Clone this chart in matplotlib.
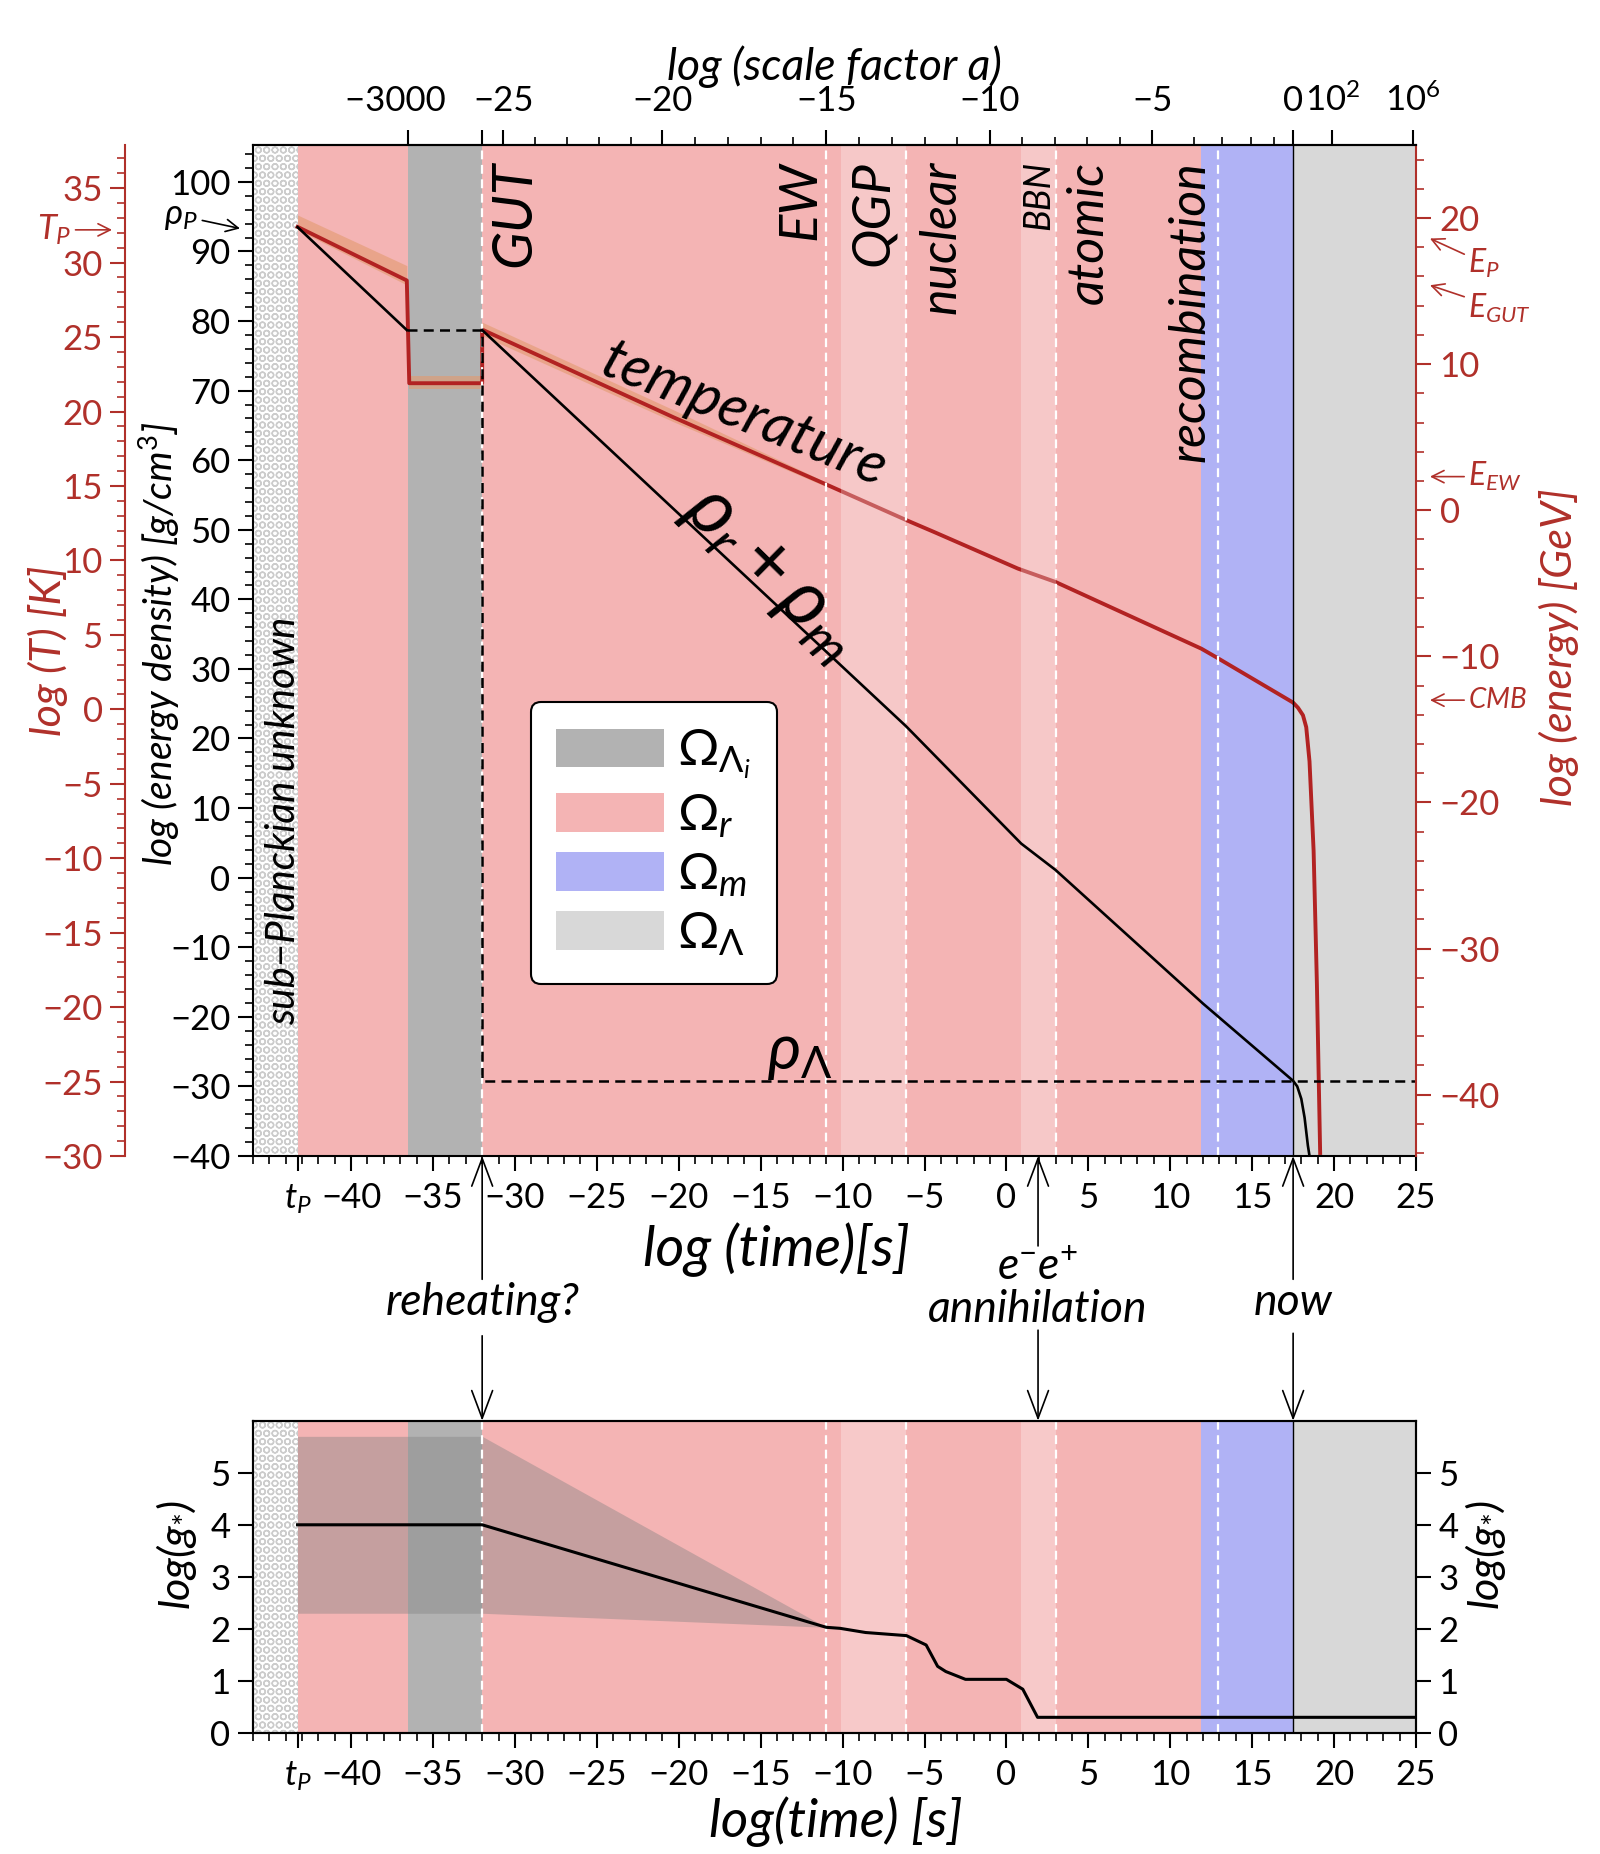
import numpy as np
import matplotlib

matplotlib.use("Agg")
import matplotlib.pyplot as plt
from matplotlib.patches import Patch

plt.rcParams.update({
    "font.family": ["Lato", "DejaVu Sans"],
    "mathtext.fontset": "custom",
    "mathtext.rm": "Lato",
    "mathtext.it": "Lato:italic",
    "mathtext.bf": "Lato:bold",
    "mathtext.sf": "Lato",
    "mathtext.fallback": "stixsans",
    "hatch.linewidth": 1.0,
    "axes.linewidth": 1.5,
})

PINK = "#f4b4b4"
PINK_LIGHT = "#f7c9c9"
INFL = "#b2b2b2"
BLUE = "#b0b2f5"
LAMBDA = "#d8d8d8"
HATCH = "#cccccc"
RED = "#b22222"
RED_TXT = "#b0302a"
BAND = "#e39a6e"

# ---- epochs, log10(time / s) ----
T_MIN, T_MAX = -46.0, 25.0
t_planck = -43.27
t_inflation = (-36.5, -32.0)
t_qgp = (-10.1, -6.1)
t_bbn = (0.9, 3.0)
t_equality = 11.9
t_now = 17.5
t_transitions = [-32.0, -11.0, -6.1, 3.0, 12.9]

# ---- temperature, log10(T / K) ----
t_temp = [-43.27, -36.6, -36.45, -32.0, -32.0, -20.3, -11.1, -6.1, -4.4,
          0.7, 3.0, 11.9, 12.8, 17.5, 17.8, 18.1, 18.3, 18.5, 18.75,
          18.95, 19.15]
log_temp = [32.4, 28.8, 21.9, 21.9, 25.5, 19.6, 15.15, 12.7, 11.9,
            9.45, 8.55, 4.07, 3.5, 0.45, 0.1, -0.4, -1.2, -3.5, -9.5,
            -18.4, -29.8]

# pale band round the early temperature, one list per segment
band_t = [[-43.27, -36.6], [-36.45, -32.0], [-32.0, -20.3, -11.1]]
band_lo = [[32.2, 28.5], [21.5, 21.5], [25.1, 19.3, 15.0]]
band_hi = [[33.2, 29.8], [22.4, 22.4], [26.0, 20.1, 15.3]]

# ---- energy density rho_r + rho_m, log10(g / cm^3) ----
t_rho_early = [-43.27, -36.6]
rho_early = [93.5, 78.7]
t_rho = [-32.0, -6.1, 0.9, 3.0, 12.0, 17.5, 17.75, 18.0, 18.2, 18.4, 18.5]
log_rho = [78.7, 21.7, 4.9, 1.1, -18.1, -29.2, -30.0, -31.8, -34.5, -38.5,
           -40.0]
# inflaton plateau, then the cosmological constant
t_rho_vac = [-36.6, -32.0, -32.0, 25.0]
rho_vac = [78.7, 78.7, -29.2, -29.2]

# ---- effective relativistic degrees of freedom ----
t_gstar = [-43.27, -32.0, -11.0, -10.15, -8.6, -6.1, -4.9, -4.2, -3.7,
           -2.5, 0.0, 1.0, 1.9, 25.0]
log_gstar = [4.0, 4.0, 2.03, 2.01, 1.93, 1.87, 1.69, 1.28, 1.18, 1.03,
             1.03, 0.84, 0.30, 0.30]
t_gband = [-43.27, -32.0, -11.0]
gband_lo = [2.3, 2.3, 2.03]
gband_hi = [5.7, 5.7, 2.03]

# ---- top axis: log scale factor against log time ----
loga_labels = ["\u22123000   ", "", "\u221225", "\u221220", "\u221215",
               "\u221210", "\u22125", "0", "10$^2$", "10$^6$"]
t_loga_major = [-36.5, -32.0, -30.7, -21.0, -11.0, -1.0, 8.9, 17.5, 19.9,
                24.8]
loga_anchor = [-25, -20, -15, -10, -5, -4, -3, -2, -1, 0]
t_loga_anchor = [-30.7, -21.0, -11.0, -1.0, 8.9, 11.47, 13.18, 14.9, 16.36,
                 17.5]

epoch_names = ["GUT", "EW", "QGP", "nuclear", "BBN", "atomic",
               "recombination"]
epoch_t = [-30.0, -12.6, -8.15, -3.95, 2.0, 5.05, 11.25]
epoch_size = [40, 38, 38, 36, 26, 36, 36]

time_ticks = [t_planck] + list(range(-40, 26, 5))
time_labels = ["$t_P$"] + [str(v).replace("-", "\u2212")
                           for v in range(-40, 26, 5)]

TICK = dict(direction="out", length=11, width=1.5, labelsize=25)
MINOR = dict(direction="out", length=6, width=1.2)


def paint_epochs(a, light_bands=True):
    a.axvspan(T_MIN, t_planck, facecolor="white", edgecolor=HATCH,
              hatch="OO", lw=0, zorder=0)
    a.axvspan(t_planck, t_inflation[0], color=PINK, lw=0, zorder=0)
    a.axvspan(*t_inflation, color=INFL, lw=0, zorder=0)
    a.axvspan(t_inflation[1], t_equality, color=PINK, lw=0, zorder=0)
    a.axvspan(t_equality, t_now, color=BLUE, lw=0, zorder=0)
    a.axvspan(t_now, T_MAX, color=LAMBDA, lw=0, zorder=0)
    if light_bands:
        for span in (t_qgp, t_bbn):
            a.axvspan(*span, color=PINK_LIGHT, lw=0, zorder=0.5)


def time_axis(a):
    a.set_xlim(T_MIN, T_MAX)
    a.set_xticks(time_ticks, labels=time_labels)
    a.set_xticks(np.arange(-46, 26, 1), minor=True)
    a.tick_params(axis="x", which="major", pad=8, **TICK)
    a.tick_params(axis="x", which="minor", **MINOR)


fig = plt.figure(figsize=(16, 18.54), dpi=100)
ax = fig.add_axes([0.158, 0.3765, 0.727, 0.5453])
axg = fig.add_axes([0.158, 0.0653, 0.727, 0.1684])

# ---------------- main panel ----------------
axT = ax.twinx()
axE = ax.twinx()
axTop = ax.twiny()
axT.set_zorder(1)
ax.set_zorder(2)
axE.set_zorder(3)
axTop.set_zorder(3)
ax.patch.set_visible(False)

paint_epochs(axT, light_bands=False)
for bt, lo, hi in zip(band_t, band_lo, band_hi):
    axT.fill_between(bt, lo, hi, color=BAND, alpha=0.6, lw=0, zorder=1.5)
axT.plot(t_temp, log_temp, color=RED, lw=2.8, zorder=2,
         solid_joinstyle="round")
for span in (t_qgp, t_bbn):
    axT.axvspan(*span, color="white", alpha=0.27, lw=0, zorder=3)

for t in t_transitions:
    ax.axvline(t, color="white", lw=1.6, ls=(0, (4, 2.5)), zorder=1)
ax.axvline(t_now, color="black", lw=1.0, zorder=1)
ax.plot(t_rho_early, rho_early, color="black", lw=1.9, zorder=3)
ax.plot(t_rho, log_rho, color="black", lw=1.9, zorder=3)
ax.plot(t_rho_vac, rho_vac, color="black", lw=1.8, ls=(0, (4, 2.5)),
        zorder=3)

time_axis(ax)
ax.set_ylim(-40, 105.3)
ax.set_yticks(range(-40, 101, 10))
ax.set_yticks(np.arange(-40, 106, 2), minor=True)
ax.tick_params(axis="y", which="major", pad=5, **TICK)
ax.tick_params(axis="y", which="minor", **MINOR)
ax.tick_params(top=False, right=False, which="both")
ax.spines["right"].set_visible(False)
ax.set_xlabel("log (time)[s]", fontsize=40, style="italic")
ax.xaxis.set_label_coords(0.45, -0.066)
ax.set_ylabel("log (energy density) [g/cm$^3$]", fontsize=28,
              style="italic")
ax.yaxis.set_label_coords(-0.061, 0.506)

for name, t, size in zip(epoch_names, epoch_t, epoch_size):
    ax.text(t, 103.0, name, rotation=90, ha="center", va="top",
            fontsize=size, style="italic", zorder=4)
ax.text(-44.1, 8.1, "sub\u2212Planckian unknown", rotation=90, ha="center",
        va="center", fontsize=29, style="italic", zorder=4)
ax.text(-16.0, 66.5, "temperature", rotation=-22, rotation_mode="anchor",
        ha="center", va="center", fontsize=42, style="italic", zorder=4)
ax.text(-14.3, 43.8, r"$\rho_r+\rho_m$", rotation=-44.5,
        rotation_mode="anchor", ha="center", va="center", fontsize=56,
        zorder=4)
ax.text(-12.6, -29.3, r"$\rho_\Lambda$", ha="center", va="bottom",
        fontsize=46, zorder=4)

handles = [Patch(facecolor=c, edgecolor="none")
           for c in (INFL, PINK, BLUE, LAMBDA)]
labels = [r"$\Omega_{\Lambda_i}$", r"$\Omega_r$", r"$\Omega_m$",
          r"$\Omega_\Lambda$"]
leg = ax.legend(handles, labels, loc="upper left",
                bbox_to_anchor=(0.239, 0.449), borderaxespad=0,
                fontsize=37, handlelength=2.1, handleheight=0.78,
                labelspacing=0.22, borderpad=0.5, handletextpad=0.25,
                fancybox=True, edgecolor="black", framealpha=1)
leg.get_frame().set_linewidth(1.5)
leg.set_zorder(5)

ax.annotate(r"$\rho_P$", xy=(-0.011, 93.3), xytext=(-0.047, 95.1),
            xycoords=("axes fraction", "data"),
            textcoords=("axes fraction", "data"), ha="right", va="center",
            fontsize=25, annotation_clip=False,
            arrowprops=dict(arrowstyle="->", color="black", lw=1.2,
                            shrinkA=1, shrinkB=0, mutation_scale=22))

# temperature axis, offset to the left
axT.set_ylim(-30, 37.9)
axT.set_yticks(range(-30, 36, 5))
axT.set_yticks(np.arange(-30, 38, 1), minor=True)
axT.yaxis.tick_left()
axT.yaxis.set_label_position("left")
for side in ("right", "top", "bottom"):
    axT.spines[side].set_visible(False)
axT.spines["left"].set_visible(True)
axT.spines["left"].set_position(("axes", -0.110))
axT.spines["left"].set_color(RED_TXT)
axT.tick_params(axis="y", which="major", pad=5, colors=RED_TXT, **TICK)
axT.tick_params(axis="y", which="minor", colors=RED_TXT, **MINOR)
axT.set_ylabel("log (T) [K]", fontsize=31, style="italic", color=RED_TXT)
axT.yaxis.set_label_coords(-0.159, 0.5)
axT.annotate("$T_P$", xy=(-0.121, 32.2), xytext=(-0.156, 32.2),
             xycoords=("axes fraction", "data"),
             textcoords=("axes fraction", "data"), ha="right", va="center",
             fontsize=25, color=RED_TXT, annotation_clip=False,
             arrowprops=dict(arrowstyle="->", color=RED_TXT, lw=1.2,
                             shrinkA=1, shrinkB=0, mutation_scale=22))

# energy axis on the right
axE.set_ylim(-44.2, 25.0)
axE.set_yticks(range(-40, 21, 10))
axE.set_yticks(np.arange(-44, 26, 2), minor=True)
for side in ("left", "top", "bottom"):
    axE.spines[side].set_visible(False)
axE.spines["right"].set_color(RED_TXT)
axE.tick_params(axis="y", which="major", pad=6, colors=RED_TXT, **TICK)
axE.tick_params(axis="y", which="minor", colors=RED_TXT, **MINOR)
axE.set_ylabel("log (energy) [GeV]", fontsize=31, style="italic",
               color=RED_TXT, rotation=90)
axE.yaxis.set_label_coords(1.106, 0.503)

energy_marks = [("$E_P$", 18.6, 16.9, 23), ("$E_{GUT}$", 15.4, 13.8, 23),
                ("$E_{EW}$", 2.3, 2.3, 23), ("$CMB$", -13.0, -13.0, 20)]
for text, tip, ytext, size in energy_marks:
    axE.annotate(text, xy=(1.012, tip), xytext=(1.045, ytext),
                 xycoords=("axes fraction", "data"),
                 textcoords=("axes fraction", "data"), ha="left",
                 va="center", fontsize=size, color=RED_TXT,
                 annotation_clip=False,
                 arrowprops=dict(arrowstyle="->", color=RED_TXT, lw=1.2,
                                 shrinkA=1, shrinkB=0, mutation_scale=22))

# scale factor axis on top
axTop.set_xlim(T_MIN, T_MAX)
axTop.set_xticks(t_loga_major, labels=loga_labels)
loga_minor = [v for v in range(-24, 0) if v % 5 != 0]
axTop.set_xticks(np.interp(loga_minor, loga_anchor, t_loga_anchor),
                 minor=True)
axTop.tick_params(axis="x", which="major", pad=9, **TICK)
axTop.tick_params(axis="x", which="minor", **MINOR)
for side in ("left", "right", "bottom"):
    axTop.spines[side].set_visible(False)
axTop.set_xlabel("log (scale factor a)", fontsize=32, style="italic")
axTop.xaxis.set_label_coords(0.5, 1.064)

# ---------------- degrees of freedom panel ----------------
paint_epochs(axg)
axg.fill_between(t_gband, gband_lo, gband_hi, color="0.5", alpha=0.4,
                 lw=0, zorder=1)
for t in t_transitions:
    axg.axvline(t, color="white", lw=1.6, ls=(0, (4, 2.5)), zorder=2)
axg.axvline(t_now, color="black", lw=1.0, zorder=2)
axg.plot(t_gstar, log_gstar, color="black", lw=2.2, zorder=3)
time_axis(axg)
axg.set_ylim(0, 6)
axg.set_yticks(range(0, 6))
axg.tick_params(axis="y", which="major", pad=5, **TICK)
axg.tick_params(top=False, right=False, which="both")
axg.set_ylabel("log($g_{*}$)", fontsize=31, style="italic")
axg.yaxis.set_label_coords(-0.046, 0.57)
fig.text(0.5225, 0.004, "log(time) [s]", ha="center", va="bottom",
         fontsize=38, style="italic")

axg2 = axg.twinx()
axg2.set_ylim(0, 6)
axg2.set_yticks(range(0, 6))
axg2.tick_params(axis="y", which="major", pad=5, **TICK)
axg2.set_ylabel("log($g_{*}$)", fontsize=31, style="italic", rotation=90)
axg2.yaxis.set_label_coords(1.04, 0.57)

# ---------------- arrows linking the panels ----------------
events = [("reheating?", -32.0, -0.122, 1.272, -0.145),
          ("e$^{-}$e$^{+}$\nannihilation", 1.93, -0.089, 1.29, -0.131),
          ("now", t_now, -0.122, 1.28, -0.145)]
arrow = dict(arrowstyle="->, head_length=0.8, head_width=0.3", lw=1.2,
             color="black", shrinkA=0, shrinkB=0, mutation_scale=25)
for text, t, tail_top, tail_bottom, ytext in events:
    ax.annotate("", xy=(t, 0), xytext=(t, tail_top),
                xycoords=ax.get_xaxis_transform(),
                textcoords=ax.get_xaxis_transform(),
                arrowprops=arrow, annotation_clip=False)
    axg.annotate("", xy=(t, 1), xytext=(t, tail_bottom),
                 xycoords=axg.get_xaxis_transform(),
                 textcoords=axg.get_xaxis_transform(),
                 arrowprops=arrow, annotation_clip=False)
    ax.text(t, ytext, text, transform=ax.get_xaxis_transform(),
            ha="center", va="center", fontsize=32, style="italic",
            linespacing=1.05)

fig.savefig("out.png", dpi=100)
